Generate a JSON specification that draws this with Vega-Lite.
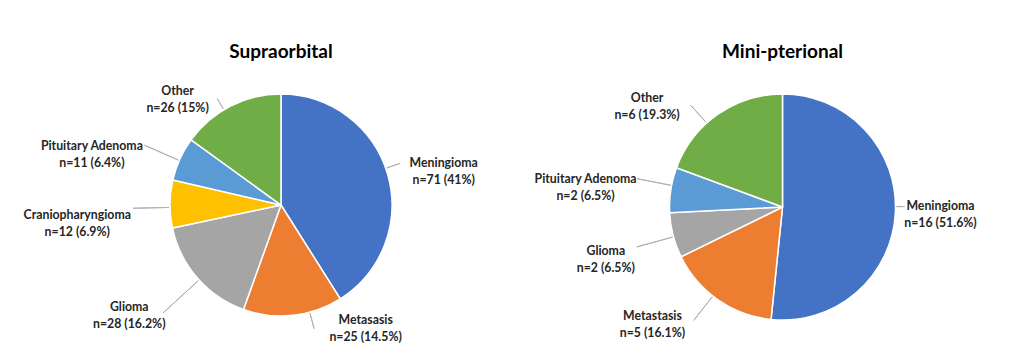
{
  "$schema": "https://vega.github.io/schema/vega-lite/v6.json",
  "autosize": {"type": "none"},
  "padding": {"left": 0, "top": 63, "right": 1024, "bottom": 295},
  "bounds": "flush",
  "background": "white",
  "spacing": 0,
  "config": {
    "view": {"stroke": null},
    "font": "Lato",
    "title": {"fontSize": 19, "fontWeight": "bold", "color": "#000000", "font": "Lato", "anchor": "middle", "frame": "group"},
    "text": {"fontWeight": "bold", "fontSize": 12.3, "lineBreak": "\n", "lineHeight": 17, "align": "center", "baseline": "middle", "color": "#262626"},
    "arc": {"stroke": "#B0B0B0"}
  },
  "datasets": {
    "supra": [
      {"type": "Meningioma", "n": 71, "label": "Meningioma\nn=71 (41%)", "i": 1},
      {"type": "Metastasis", "n": 25, "label": "Metasasis\nn=25 (14.5%)", "i": 2},
      {"type": "Glioma", "n": 28, "label": "Glioma\nn=28 (16.2%)", "i": 3},
      {"type": "Craniopharyngioma", "n": 12, "label": "Craniopharyngioma\nn=12 (6.9%)", "i": 4},
      {"type": "Pituitary Adenoma", "n": 11, "label": "Pituitary Adenoma\nn=11 (6.4%)", "i": 5},
      {"type": "Other", "n": 26, "label": "Other\nn=26 (15%)", "i": 6}
    ],
    "mini": [
      {"type": "Meningioma", "n": 16, "label": "Meningioma\nn=16 (51.6%)", "i": 1},
      {"type": "Metastasis", "n": 5, "label": "Metastasis\nn=5 (16.1%)", "i": 2},
      {"type": "Glioma", "n": 2, "label": "Glioma\nn=2 (6.5%)", "i": 3},
      {"type": "Pituitary Adenoma", "n": 2, "label": "Pituitary Adenoma\nn=2 (6.5%)", "i": 4},
      {"type": "Other", "n": 6, "label": "Other\nn=6 (19.3%)", "i": 5}
    ]
  },
  "hconcat": [
    {
      "width": 562,
      "height": 284,
      "title": {"text": "Supraorbital", "offset": -38.5},
      "data": {"name": "supra"},
      "resolve": {"scale": {"theta": "independent"}},
      "encoding": {
        "order": {"field": "i", "type": "quantitative"},
        "detail": {"field": "type", "type": "nominal"}
      },
      "layer": [
        {
          "mark": {"type": "arc", "outerRadius": 111, "stroke": "white", "strokeWidth": 1.5},
          "encoding": {
            "theta": {"field": "n", "type": "quantitative", "stack": true},
            "color": {
              "field": "type", "type": "nominal", "legend": null,
              "scale": {
                "domain": ["Meningioma", "Metastasis", "Glioma", "Craniopharyngioma", "Pituitary Adenoma", "Other"],
                "range": ["#4472C4", "#ED7D31", "#A5A5A5", "#FFC000", "#5B9BD5", "#70AD47"]
              }
            }
          }
        },
        {"mark": {"type": "arc", "padAngle": 3.1416, "fill": null, "strokeWidth": 1, "radius2": 112, "radius": 126},
         "encoding": {"theta": {"field": "n", "type": "quantitative", "stack": true, "scale": {"range": [-0.055, 6.2282]}},
                      "strokeOpacity": {"condition": {"test": "datum.type === 'Meningioma'", "value": 1}, "value": 0}}},
        {"mark": {"type": "arc", "padAngle": 3.1416, "fill": null, "strokeWidth": 1, "radius2": 112, "radius": 128},
         "encoding": {"theta": {"field": "n", "type": "quantitative", "stack": true, "scale": {"range": [-0.153, 6.1302]}},
                      "strokeOpacity": {"condition": {"test": "datum.type === 'Metastasis'", "value": 1}, "value": 0}}},
        {"mark": {"type": "arc", "padAngle": 3.1416, "fill": null, "strokeWidth": 1, "radius2": 112, "radius": 160},
         "encoding": {"theta": {"field": "n", "type": "quantitative", "stack": true, "scale": {"range": [-0.024, 6.2592]}},
                      "strokeOpacity": {"condition": {"test": "datum.type === 'Glioma'", "value": 1}, "value": 0}}},
        {"mark": {"type": "arc", "padAngle": 3.1416, "fill": null, "strokeWidth": 1, "radius2": 112, "radius": 148},
         "encoding": {"theta": {"field": "n", "type": "quantitative", "stack": true, "scale": {"range": [-0.031, 6.2522]}},
                      "strokeOpacity": {"condition": {"test": "datum.type === 'Craniopharyngioma'", "value": 1}, "value": 0}}},
        {"mark": {"type": "arc", "padAngle": 3.1416, "fill": null, "strokeWidth": 1, "radius2": 112, "radius": 149},
         "encoding": {"theta": {"field": "n", "type": "quantitative", "stack": true, "scale": {"range": [-0.014, 6.2692]}},
                      "strokeOpacity": {"condition": {"test": "datum.type === 'Pituitary Adenoma'", "value": 1}, "value": 0}}},
        {"mark": {"type": "arc", "padAngle": 3.1416, "fill": null, "strokeWidth": 1, "radius2": 112, "radius": 124},
         "encoding": {"theta": {"field": "n", "type": "quantitative", "stack": true, "scale": {"range": [-0.068, 6.2152]}},
                      "strokeOpacity": {"condition": {"test": "datum.type === 'Other'", "value": 1}, "value": 0}}},
        {"mark": {"type": "text", "radius": 168},
         "encoding": {"theta": {"field": "n", "type": "quantitative", "stack": true, "scale": {"range": [0.030, 6.3132]}},
                      "text": {"condition": {"test": "datum.type === 'Meningioma'", "field": "label"}, "value": ""}}},
        {"mark": {"type": "text", "radius": 143},
         "encoding": {"theta": {"field": "n", "type": "quantitative", "stack": true, "scale": {"range": [-0.5245, 5.7587]}},
                      "text": {"condition": {"test": "datum.type === 'Metastasis'", "field": "label"}, "value": ""}}},
        {"mark": {"type": "text", "radius": 183},
         "encoding": {"theta": {"field": "n", "type": "quantitative", "stack": true, "scale": {"range": [0.124, 6.4072]}},
                      "text": {"condition": {"test": "datum.type === 'Glioma'", "field": "label"}, "value": ""}}},
        {"mark": {"type": "text", "radius": 204},
         "encoding": {"theta": {"field": "n", "type": "quantitative", "stack": true, "scale": {"range": [-0.060, 6.2232]}},
                      "text": {"condition": {"test": "datum.type === 'Craniopharyngioma'", "field": "label"}, "value": ""}}},
        {"mark": {"type": "text", "radius": 198},
         "encoding": {"theta": {"field": "n", "type": "quantitative", "stack": true, "scale": {"range": [-0.126, 6.1572]}},
                      "text": {"condition": {"test": "datum.type === 'Pituitary Adenoma'", "field": "label"}, "value": ""}}},
        {"mark": {"type": "text", "radius": 154},
         "encoding": {"theta": {"field": "n", "type": "quantitative", "stack": true, "scale": {"range": [-0.264, 6.0192]}},
                      "text": {"condition": {"test": "datum.type === 'Other'", "field": "label"}, "value": ""}}}
      ]
    },
    {
      "width": 441,
      "height": 288,
      "title": {"text": "Mini-pterional", "offset": -23},
      "data": {"name": "mini"},
      "resolve": {"scale": {"theta": "independent"}},
      "encoding": {
        "order": {"field": "i", "type": "quantitative"},
        "detail": {"field": "type", "type": "nominal"}
      },
      "layer": [
        {
          "mark": {"type": "arc", "outerRadius": 113, "stroke": "white", "strokeWidth": 1.5},
          "encoding": {
            "theta": {"field": "n", "type": "quantitative", "stack": true},
            "color": {
              "field": "type", "type": "nominal", "legend": null,
              "scale": {
                "domain": ["Meningioma", "Metastasis", "Glioma", "Pituitary Adenoma", "Other"],
                "range": ["#4472C4", "#ED7D31", "#A5A5A5", "#5B9BD5", "#70AD47"]
              }
            }
          }
        },
        {"mark": {"type": "arc", "padAngle": 3.1416, "fill": null, "strokeWidth": 1, "radius2": 114, "radius": 122},
         "encoding": {"theta": {"field": "n", "type": "quantitative", "stack": true, "scale": {"range": [0.7566, 3.8982]}},
                      "strokeOpacity": {"condition": {"test": "datum.type === 'Meningioma'", "value": 1}, "value": 0}}},
        {"mark": {"type": "arc", "padAngle": 3.1416, "fill": null, "strokeWidth": 1, "radius2": 114, "radius": 144},
         "encoding": {"theta": {"field": "n", "type": "quantitative", "stack": true, "scale": {"range": [0.056, 6.3392]}},
                      "strokeOpacity": {"condition": {"test": "datum.type === 'Metastasis'", "value": 1}, "value": 0}}},
        {"mark": {"type": "arc", "padAngle": 3.1416, "fill": null, "strokeWidth": 1, "radius2": 114, "radius": 151},
         "encoding": {"theta": {"field": "n", "type": "quantitative", "stack": true, "scale": {"range": [-0.014, 6.2692]}},
                      "strokeOpacity": {"condition": {"test": "datum.type === 'Glioma'", "value": 1}, "value": 0}}},
        {"mark": {"type": "arc", "padAngle": 3.1416, "fill": null, "strokeWidth": 1, "radius2": 114, "radius": 148},
         "encoding": {"theta": {"field": "n", "type": "quantitative", "stack": true, "scale": {"range": [0.040, 6.3232]}},
                      "strokeOpacity": {"condition": {"test": "datum.type === 'Pituitary Adenoma'", "value": 1}, "value": 0}}},
        {"mark": {"type": "arc", "padAngle": 3.1416, "fill": null, "strokeWidth": 1, "radius2": 114, "radius": 137},
         "encoding": {"theta": {"field": "n", "type": "quantitative", "stack": true, "scale": {"range": [-0.126, 6.1572]}},
                      "strokeOpacity": {"condition": {"test": "datum.type === 'Other'", "value": 1}, "value": 0}}},
        {"mark": {"type": "text", "radius": 158},
         "encoding": {"theta": {"field": "n", "type": "quantitative", "stack": true, "scale": {"range": [-0.054, 6.2292]}},
                      "text": {"condition": {"test": "datum.type === 'Meningioma'", "field": "label"}, "value": ""}}},
        {"mark": {"type": "text", "radius": 170},
         "encoding": {"theta": {"field": "n", "type": "quantitative", "stack": true, "scale": {"range": [0.263, 6.5462]}},
                      "text": {"condition": {"test": "datum.type === 'Metastasis'", "field": "label"}, "value": ""}}},
        {"mark": {"type": "text", "radius": 182},
         "encoding": {"theta": {"field": "n", "type": "quantitative", "stack": true, "scale": {"range": [0.011, 6.2942]}},
                      "text": {"condition": {"test": "datum.type === 'Glioma'", "field": "label"}, "value": ""}}},
        {"mark": {"type": "text", "radius": 199},
         "encoding": {"theta": {"field": "n", "type": "quantitative", "stack": true, "scale": {"range": [-0.009, 6.2742]}},
                      "text": {"condition": {"test": "datum.type === 'Pituitary Adenoma'", "field": "label"}, "value": ""}}},
        {"mark": {"type": "text", "radius": 174},
         "encoding": {"theta": {"field": "n", "type": "quantitative", "stack": true, "scale": {"range": [-0.284, 5.9992]}},
                      "text": {"condition": {"test": "datum.type === 'Other'", "field": "label"}, "value": ""}}}
      ]
    }
  ]
}
